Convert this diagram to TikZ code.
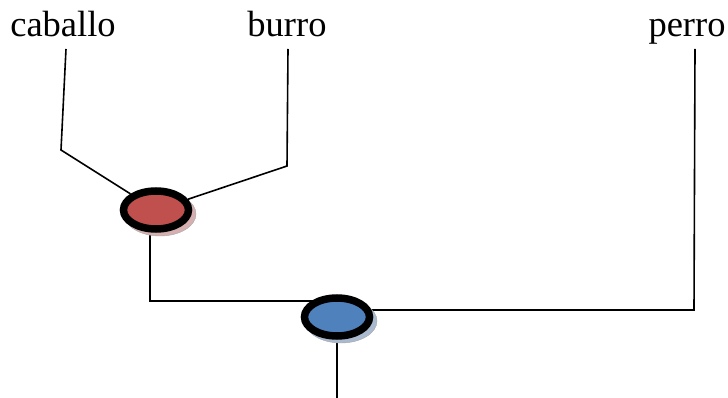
\documentclass[tikz,border=0pt]{standalone}
\usepackage{fontspec}
\setmainfont{Liberation Serif}
\usetikzlibrary{shapes.geometric, backgrounds}
\definecolor{nodored}{RGB}{192, 80, 77}
\definecolor{nodoazul}{RGB}{79, 129, 189}
\definecolor{sombrarojo}{RGB}{214, 176, 176}
\definecolor{sombraazul}{RGB}{170, 186, 206}

\tikzset{
  especie/.style={font=\fontsize{36.5}{40}\selectfont, inner sep=0pt, anchor=base},
  nodo/.style={ellipse, draw=black, line width=7.5pt, minimum width=65pt, minimum height=38pt},
  rama/.style={line width=1.6pt},
}

\begin{document}
\begin{tikzpicture}[x=1pt, y=-1pt]
\useasboundingbox (0,0) rectangle (728,398);

% especies
\node[especie] (caballo) at (63,37) {caballo};
\node[especie] (burro) at (287,37) {burro};
\node[especie] (perro) at (687,37) {perro};

% centros de los nodos internos
\coordinate (c1) at (156,210);
\coordinate (c2) at (337,317);

% sombras
\fill[sombrarojo, draw=gray!70] ([shift={(4,4)}]c1) ellipse (36 and 22);
\fill[sombraazul, draw=gray!70] ([shift={(4,4)}]c2) ellipse (36 and 22);

% nodos internos
\node[nodo, fill=nodored] (rojo) at (c1) {};
\node[nodo, fill=nodoazul] (azul) at (c2) {};

% puntos de las ramas
\coordinate (t1) at (66,49);
\coordinate (q1) at (61,150);
\coordinate (t2) at (288,49);
\coordinate (q2) at (287,166);
\coordinate (t3) at (695,49);
\coordinate (q3) at (694,310);
\coordinate (s1) at (150,230);
\coordinate (q4) at (150,301);
\coordinate (raiz) at (337,398);

% ramas
\begin{scope}[on background layer]
\draw[rama] (t1) -- (q1) -- (rojo);
\draw[rama] (t2) -- (q2) -- (rojo);
\draw[rama] (s1) -- (q4) -- (azul.center |- q4);
\draw[rama] (t3) -- (q3) -- (azul.center |- q3);
\draw[rama] (azul) -- (raiz);
\end{scope}
\end{tikzpicture}
\end{document}
